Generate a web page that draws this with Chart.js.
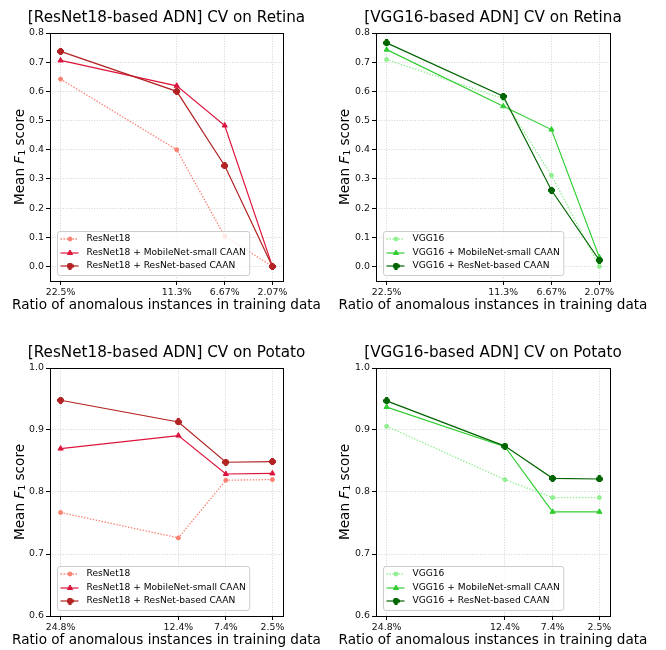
<!DOCTYPE html>
<html>
<head>
<meta charset="utf-8">
<script src="https://cdn.jsdelivr.net/npm/chart.js@4/dist/chart.umd.min.js"></script>
<style>
  html, body { margin: 0; padding: 0; background: #fff; overflow: hidden; }
  #wrap { position: relative; width: 666px; height: 650px; overflow: hidden; }
  canvas { position: absolute; }
</style>
</head>
<body>
<div id="wrap">
  <canvas id="c1" width="333" height="325" style="left:0;top:0"></canvas>
  <canvas id="c2" width="333" height="325" style="left:333px;top:0"></canvas>
  <canvas id="c3" width="333" height="325" style="left:0;top:335px"></canvas>
  <canvas id="c4" width="333" height="325" style="left:333px;top:335px"></canvas>
</div>
<script>
// x positions (ratio in %) and their tick labels
const RETINA_X = [22.5, 11.3, 6.67, 2.07];
const RETINA_X_LABELS = ['22.5%', '11.3%', '6.67%', '2.07%'];
const POTATO_X = [24.8, 12.4, 7.4, 2.5];
const POTATO_X_LABELS = ['24.8%', '12.4%', '7.4%', '2.5%'];

const RETINA_Y_TICKS = [0.0, 0.1, 0.2, 0.3, 0.4, 0.5, 0.6, 0.7, 0.8];
const POTATO_Y_TICKS = [0.6, 0.7, 0.8, 0.9, 1.0];

// Mean F1 scores
const RETINA_RESNET18 = [0.642, 0.400, 0.103, 0.0];
const RETINA_RESNET18_MOBILENET = [0.706, 0.619, 0.483, 0.0];
const RETINA_RESNET18_RESNET = [0.737, 0.600, 0.345, 0.0];

const RETINA_VGG16 = [0.709, 0.575, 0.312, 0.0];
const RETINA_VGG16_MOBILENET = [0.743, 0.549, 0.469, 0.031];
const RETINA_VGG16_RESNET = [0.766, 0.583, 0.261, 0.021];

const POTATO_RESNET18 = [0.767, 0.726, 0.819, 0.820];
const POTATO_RESNET18_MOBILENET = [0.870, 0.891, 0.829, 0.830];
const POTATO_RESNET18_RESNET = [0.948, 0.913, 0.848, 0.849];

const POTATO_VGG16 = [0.906, 0.820, 0.791, 0.791];
const POTATO_VGG16_MOBILENET = [0.937, 0.873, 0.768, 0.768];
const POTATO_VGG16_RESNET = [0.947, 0.874, 0.822, 0.821];

const X_TITLE = 'Ratio of anomalous instances in training data';

const RED = { base: '#fa8072', mobile: '#dc143c', resnet: '#b22222' };
const GREEN = { base: '#90ee90', mobile: '#32cd32', resnet: '#006400' };
const GRID = 'rgba(176, 176, 176, 0.7)';
const TEXT = '#111';
const FAMILY = '"DejaVu Sans", sans-serif';

Chart.defaults.font.family = FAMILY;
Chart.defaults.animation = false;

// filled plus marker (like matplotlib 'P')
function plusMarker(color) {
    const c = document.createElement('canvas');
    c.width = 7;
    c.height = 7;
    const g = c.getContext('2d');
    g.fillStyle = color;
    g.fillRect(2, 0, 3, 7);
    g.fillRect(0, 2, 7, 3);
    g.fillRect(1, 1, 5, 5);
    return c;
}

function series(label, xs, ys, color, kind) {
    const base = {
        label,
        data: xs.map((x, i) => ({ x, y: ys[i] })),
        borderColor: color,
        backgroundColor: color,
        pointBackgroundColor: color,
        pointBorderColor: color,
        fill: false,
        tension: 0
    };
    if (kind === 'base') {
        return { ...base, borderWidth: 1.3, borderDash: [1.4, 1.6], pointStyle: 'circle', pointRadius: 2, pointBorderWidth: 1, order: 3 };
    }
    if (kind === 'mobile') {
        return { ...base, borderWidth: 1.2, pointStyle: 'triangle', pointRadius: 3, pointBorderWidth: 1, order: 2 };
    }
    return { ...base, borderWidth: 1.2, pointStyle: plusMarker(color), pointRadius: 4, pointBorderWidth: 0, order: 1 };
}

// spines on all four sides, titles, and a matplotlib-like legend box in the lower left
const frameAndLegend = {
    id: 'frameAndLegend',
    afterDatasetsDraw(chart, args, opts) {
        const ctx = chart.ctx;
        const a = chart.chartArea;
        ctx.save();
        ctx.strokeStyle = '#000';
        ctx.lineWidth = 1;
        const l = Math.round(a.left), t = Math.round(a.top), r = Math.round(a.right), b = Math.round(a.bottom);
        ctx.strokeRect(l + 0.5, t + 0.5, r - l, b - t);

        // legend
        const items = chart.data.datasets;
        ctx.font = '9.1px ' + FAMILY;
        const textW = Math.max(...items.map(d => ctx.measureText(d.label).width));
        const bh = 44;
        const bx = l + 7.5, by = b - 5.5 - bh, bw = 29 + textW + 4;
        ctx.beginPath();
        if (ctx.roundRect) ctx.roundRect(bx, by, bw, bh, 2.5); else ctx.rect(bx, by, bw, bh);
        ctx.fillStyle = 'rgba(255,255,255,0.8)';
        ctx.fill();
        ctx.strokeStyle = '#cccccc';
        ctx.lineWidth = 1;
        ctx.stroke();

        items.forEach((d, i) => {
            const cy = Math.round(by + 7.5 + i * 13.6);
            ctx.save();
            ctx.strokeStyle = d.borderColor;
            ctx.lineWidth = d.borderWidth;
            ctx.setLineDash(d.borderDash || []);
            ctx.beginPath();
            ctx.moveTo(bx + 3, cy);
            ctx.lineTo(bx + 21, cy);
            ctx.stroke();
            ctx.restore();
            ctx.save();
            ctx.fillStyle = d.pointBackgroundColor;
            ctx.strokeStyle = d.pointBorderColor;
            ctx.lineWidth = d.pointBorderWidth;
            Chart.helpers.drawPoint(ctx, {
                pointStyle: d.pointStyle,
                radius: d.pointRadius,
                borderWidth: d.pointBorderWidth,
                rotation: 0
            }, Math.round(bx + 12), cy);
            ctx.restore();
            ctx.fillStyle = '#000';
            ctx.textBaseline = 'middle';
            ctx.textAlign = 'left';
            ctx.fillText(d.label, bx + 29, cy);
        });
        ctx.restore();
    },
    afterDraw(chart, args, opts) {
        const ctx = chart.ctx;
        const a = chart.chartArea;
        const cx = (a.left + a.right) / 2;
        const cy = (a.top + a.bottom) / 2;
        ctx.save();
        ctx.fillStyle = '#000';
        ctx.textAlign = 'center';
        ctx.textBaseline = 'middle';
        ctx.font = '15.2px ' + FAMILY;
        ctx.fillText(opts.title, cx, 18);
        ctx.font = '13.6px ' + FAMILY;
        ctx.fillText(X_TITLE, cx, a.bottom + 24.7);

        // "Mean F1 score" with italic F and subscript 1, rotated
        const parts = [
            { s: 'Mean ', f: '13.6px ' + FAMILY, dy: 0 },
            { s: 'F', f: 'italic 13.6px ' + FAMILY, dy: 0 },
            { s: '1', f: '9.5px ' + FAMILY, dy: 2.5 },
            { s: ' score', f: '13.6px ' + FAMILY, dy: 0 }
        ];
        let total = 0;
        parts.forEach(p => { ctx.font = p.f; p.w = ctx.measureText(p.s).width; total += p.w; });
        ctx.translate(opts.yTitleX, cy);
        ctx.rotate(-Math.PI / 2);
        ctx.textAlign = 'left';
        let x = -total / 2;
        parts.forEach(p => {
            ctx.font = p.f;
            ctx.fillText(p.s, x, p.dy);
            x += p.w;
        });
        ctx.restore();
    }
};

function makeChart(id, cfg) {
    return new Chart(document.getElementById(id), {
        type: 'line',
        data: { datasets: cfg.datasets },
        options: {
            responsive: false,
            layout: { padding: { left: 0, right: cfg.padRight, top: 33, bottom: 0 } },
            plugins: {
                legend: { display: false },
                tooltip: { enabled: false },
                title: { display: false },
                frameAndLegend: { title: cfg.title, yTitleX: cfg.yTitleX }
            },
            scales: {
                x: {
                    type: 'linear',
                    reverse: true,
                    min: cfg.xMin,
                    max: cfg.xMax,
                    afterBuildTicks: s => { s.ticks = cfg.xValues.map(v => ({ value: v })); },
                    afterFit: s => { s.height = 44; },
                    ticks: {
                        autoSkip: false,
                        maxRotation: 0,
                        padding: 2,
                        color: TEXT,
                        font: { size: 9.4 },
                        callback: (v, i) => cfg.xLabels[i]
                    },
                    grid: { color: GRID, lineWidth: 0.8, tickColor: '#000', tickLength: 4, tickWidth: 1 },
                    border: { display: false, dash: [1, 1.6] }
                },
                y: {
                    min: cfg.yMin,
                    max: cfg.yMax,
                    afterBuildTicks: s => { s.ticks = cfg.yTicks.map(v => ({ value: v })); },
                    afterFit: s => { s.width = cfg.yWidth; },
                    ticks: {
                        padding: 2,
                        color: TEXT,
                        font: { size: 9.4 },
                        callback: v => v.toFixed(1)
                    },
                    grid: { color: GRID, lineWidth: 0.8, tickColor: '#000', tickLength: 4, tickWidth: 1 },
                    border: { display: false, dash: [1, 1.6] }
                }
            }
        },
        plugins: [frameAndLegend]
    });
}

makeChart('c1', {
    title: '[ResNet18-based ADN] CV on Retina',
    xValues: RETINA_X, xLabels: RETINA_X_LABELS, xMin: 1.05, xMax: 23.52,
    yMin: -0.05, yMax: 0.8, yTicks: RETINA_Y_TICKS,
    yWidth: 50, yTitleX: 20, padRight: 50,
    datasets: [
        series('ResNet18', RETINA_X, RETINA_RESNET18, RED.base, 'base'),
        series('ResNet18 + MobileNet-small CAAN', RETINA_X, RETINA_RESNET18_MOBILENET, RED.mobile, 'mobile'),
        series('ResNet18 + ResNet-based CAAN', RETINA_X, RETINA_RESNET18_RESNET, RED.resnet, 'resnet')
    ]
});

makeChart('c2', {
    title: '[VGG16-based ADN] CV on Retina',
    xValues: RETINA_X, xLabels: RETINA_X_LABELS, xMin: 1.05, xMax: 23.52,
    yMin: -0.05, yMax: 0.8, yTicks: RETINA_Y_TICKS,
    yWidth: 43, yTitleX: 12, padRight: 56,
    datasets: [
        series('VGG16', RETINA_X, RETINA_VGG16, GREEN.base, 'base'),
        series('VGG16 + MobileNet-small CAAN', RETINA_X, RETINA_VGG16_MOBILENET, GREEN.mobile, 'mobile'),
        series('VGG16 + ResNet-based CAAN', RETINA_X, RETINA_VGG16_RESNET, GREEN.resnet, 'resnet')
    ]
});

makeChart('c3', {
    title: '[ResNet18-based ADN] CV on Potato',
    xValues: POTATO_X, xLabels: POTATO_X_LABELS, xMin: 1.385, xMax: 25.915,
    yMin: 0.6, yMax: 1.0, yTicks: POTATO_Y_TICKS,
    yWidth: 50, yTitleX: 20, padRight: 50,
    datasets: [
        series('ResNet18', POTATO_X, POTATO_RESNET18, RED.base, 'base'),
        series('ResNet18 + MobileNet-small CAAN', POTATO_X, POTATO_RESNET18_MOBILENET, RED.mobile, 'mobile'),
        series('ResNet18 + ResNet-based CAAN', POTATO_X, POTATO_RESNET18_RESNET, RED.resnet, 'resnet')
    ]
});

makeChart('c4', {
    title: '[VGG16-based ADN] CV on Potato',
    xValues: POTATO_X, xLabels: POTATO_X_LABELS, xMin: 1.385, xMax: 25.915,
    yMin: 0.6, yMax: 1.0, yTicks: POTATO_Y_TICKS,
    yWidth: 43, yTitleX: 12, padRight: 56,
    datasets: [
        series('VGG16', POTATO_X, POTATO_VGG16, GREEN.base, 'base'),
        series('VGG16 + MobileNet-small CAAN', POTATO_X, POTATO_VGG16_MOBILENET, GREEN.mobile, 'mobile'),
        series('VGG16 + ResNet-based CAAN', POTATO_X, POTATO_VGG16_RESNET, GREEN.resnet, 'resnet')
    ]
});
</script>
</body>
</html>
